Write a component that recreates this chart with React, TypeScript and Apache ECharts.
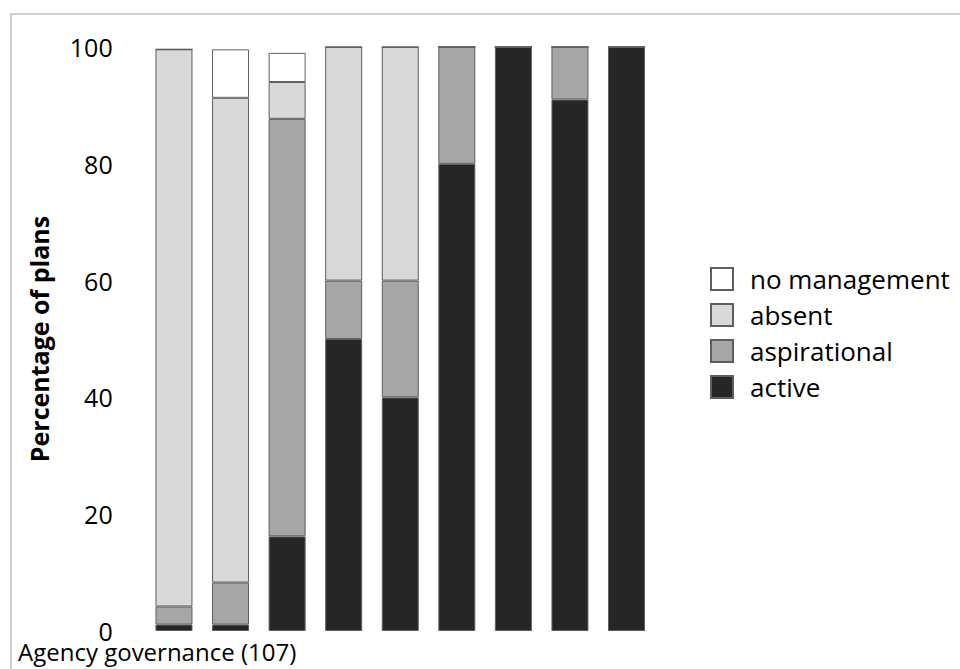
import React, { useEffect, useRef } from "react";
import * as echarts from "echarts";

const categories = ["1", "2", "3", "4", "5", "6", "7", "8", "9"];
const active = [1.1, 1.1, 16.2, 50, 40, 80, 100, 91, 100];
const aspirational = [3.1, 7.2, 71.5, 10, 20, 20, 0, 9, 0];
const absent = [95.4, 83, 6.3, 40, 40, 0, 0, 0, 0];
const noManagement = [0, 8.3, 5, 0, 0, 0, 0, 0, 0];
const yTicks = [0, 20, 40, 60, 80, 100];

const FONT = "'Open Sans', sans-serif";

export default function App() {
  const ref = useRef<HTMLDivElement>(null);
  useEffect(() => {
    if (!ref.current) return;
    const chart = echarts.init(ref.current, null, { renderer: "svg" });
    const mk = (name: string, data: number[], color: string) => ({
      name,
      type: "bar",
      stack: "total",
      data,
      barWidth: 37,
      itemStyle: { color, borderColor: "#5e5e5e", borderWidth: 1 },
    });
    chart.setOption({
      animation: false,
      backgroundColor: "#ffffff",
      textStyle: { fontFamily: FONT },
      grid: { left: 145.7, right: 305.2, top: 47, bottom: 38, containLabel: false },
      xAxis: {
        type: "category",
        data: categories,
        axisLine: { show: false },
        axisTick: { show: false },
        axisLabel: { show: false },
      },
      yAxis: {
        type: "value",
        min: yTicks[0],
        max: yTicks[yTicks.length - 1],
        interval: 20,
        axisLine: { show: false },
        axisTick: { show: false },
        splitLine: { show: false },
        axisLabel: { margin: 33, fontSize: 25, lineHeight: 16, color: "#000", fontFamily: FONT },
        name: "Percentage of plans",
        nameLocation: "middle",
        nameGap: 94,
        nameTextStyle: { fontSize: 25, fontWeight: "bold", color: "#000", fontFamily: FONT },
      },
      legend: {
        orient: "vertical",
        left: 710,
        top: 266,
        padding: 0,
        itemWidth: 22,
        itemHeight: 22,
        itemGap: 10,
        icon: "rect",
        data: ["no management", "absent", "aspirational", "active"],
        textStyle: { fontSize: 26, color: "#000", fontFamily: FONT, padding: [0, 0, 0, 12] },
      },
      graphic: [
        {
          type: "rect",
          shape: { x: 11, y: 14, width: 1200, height: 1000 },
          style: { fill: "none", stroke: "#bfbfbf", lineWidth: 1.5 },
          silent: true,
        },
        {
          type: "text",
          left: 18,
          top: 639,
          style: {
            text: "Agency governance (107)",
            fontSize: 24,
            lineHeight: 24,
            fill: "#000",
            fontFamily: FONT,
          },
        },
      ],
      series: [
        mk("active", active, "#262626"),
        mk("aspirational", aspirational, "#a6a6a6"),
        mk("absent", absent, "#d9d9d9"),
        mk("no management", noManagement, "#ffffff"),
      ],
    });
    return () => chart.dispose();
  }, []);
  return (
    <div
      ref={ref}
      style={{ position: "fixed", left: 0, top: 0, width: 960, height: 669, background: "#fff" }}
    />
  );
}
